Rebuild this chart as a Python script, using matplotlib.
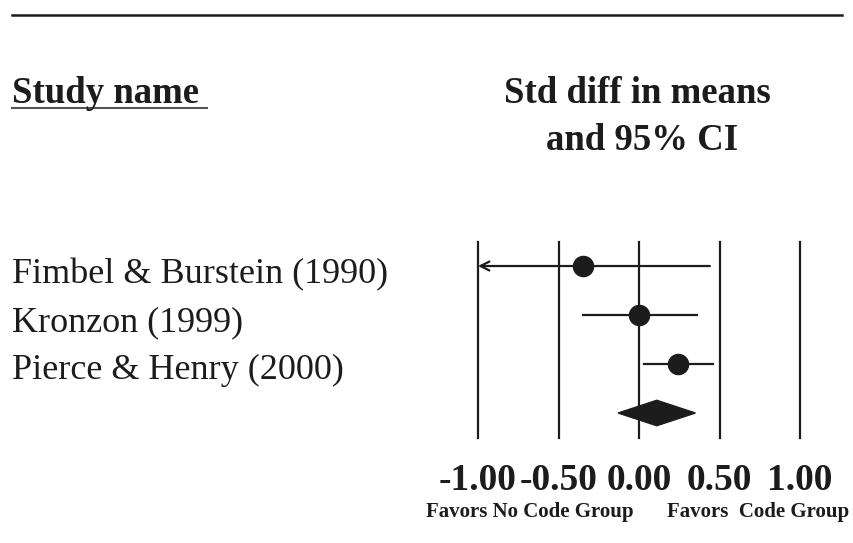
import matplotlib
matplotlib.use('Agg')
import matplotlib.pyplot as plt
from matplotlib.patches import Polygon
import numpy as np

# Study-level effects (standardized difference in means, 95% CI)
studies = ['Fimbel & Burstein (1990)', 'Kronzon (1999)', 'Pierce & Henry (2000)']
effect = [-0.35, 0.00, 0.24]
ci_low = [-1.14, -0.35, 0.03]
ci_high = [0.44, 0.36, 0.46]

# Pooled estimate
pooled_effect = 0.11
pooled_low = -0.13
pooled_high = 0.35

ticks = [-1.00, -0.50, 0.00, 0.50, 1.00]
tick_labels = ['-1.00', '-0.50', '0.00', '0.50', '1.00']

W, H = 854, 543
ink = '#1c1c1c'
plt.rcParams['font.family'] = ['Liberation Serif', 'DejaVu Serif']

fig = plt.figure(figsize=(W / 100, H / 100), dpi=100)
fig.patch.set_facecolor('white')


def fx(px):
    return px / W


def fy(py):
    return 1 - py / H


# forest plot axes: pixels 440..840 horizontally, 230..450 vertically
ax = fig.add_axes([fx(440), fy(450), fx(400), (450 - 230) / H])
ax.set_xlim(-1.236, 1.248)
ax.set_ylim(4.755, 0.265)
for s in ax.spines.values():
    s.set_visible(False)
ax.set_yticks([])
ax.set_xticks(ticks)
ax.set_xticklabels(tick_labels, fontsize=27, fontweight='bold', color=ink)
ax.tick_params(axis='x', length=0, pad=9)

# reference lines
for t in ticks:
    ax.plot([t, t], [0.5, 4.5], color=ink, lw=1.6, zorder=1)

xmin = ticks[0]
for i in range(len(studies)):
    y = i + 1
    lo = max(ci_low[i], xmin)
    if ci_low[i] < xmin:
        ax.annotate('', xy=(lo, y), xytext=(ci_high[i], y),
                    arrowprops=dict(arrowstyle='->', lw=1.6, color=ink,
                                    mutation_scale=16, shrinkA=0, shrinkB=0),
                    zorder=2)
    else:
        ax.plot([lo, ci_high[i]], [y, y], color=ink, lw=1.6, zorder=2)
    ax.plot(effect[i], y, 'o', color=ink, markersize=14.5, zorder=3)

# pooled diamond
yd = len(studies) + 1
h = 0.26
ax.add_patch(Polygon([(pooled_low, yd), (pooled_effect, yd - h),
                      (pooled_high, yd), (pooled_effect, yd + h)],
                     closed=True, facecolor=ink, edgecolor=ink, zorder=3))

# study names
row_px = [283, 331, 379]
for name, py in zip(studies, row_px):
    fig.text(fx(12), fy(py), name, fontsize=26, color=ink,
             ha='left', va='baseline')

# header rule
fig.add_artist(plt.Line2D([fx(12), fx(842)], [fy(15), fy(15)],
                          color=ink, lw=1.8))

# column headers
fig.text(fx(12), fy(103), 'Study name', fontsize=26.5, fontweight='bold',
         color=ink, ha='left', va='baseline')
fig.add_artist(plt.Line2D([fx(12), fx(207)], [fy(108), fy(108)],
                          color='#555555', lw=1.5))
fig.text(fx(637), fy(103), 'Std diff in means', fontsize=26.5,
         fontweight='bold', color=ink, ha='center', va='baseline')
fig.text(fx(642), fy(150), 'and 95% CI', fontsize=26.5,
         fontweight='bold', color=ink, ha='center', va='baseline')

# direction labels under the axis
fig.text(fx(530), fy(517), 'Favors No Code Group', fontsize=15,
         fontweight='bold', color=ink, ha='center', va='baseline')
fig.text(fx(758), fy(517), 'Favors  Code Group', fontsize=15,
         fontweight='bold', color=ink, ha='center', va='baseline')

fig.savefig('out.png', dpi=100, facecolor='white')
